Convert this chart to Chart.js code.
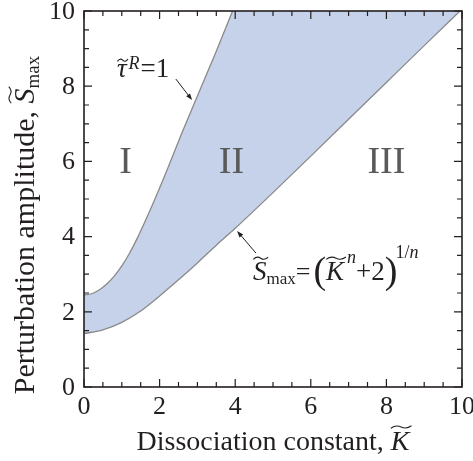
<!DOCTYPE html>
<html>
<head>
<meta charset="utf-8">
<script src="https://cdn.jsdelivr.net/npm/chart.js@4.4.1/dist/chart.umd.min.js"></script>
<style>
  html, body { margin: 0; padding: 0; background: #fff; }
  #wrap { width: 473px; height: 461px; }
</style>
</head>
<body>
<div id="wrap"><canvas id="chart" width="473" height="461"></canvas></div>
<script>
// values
// upper boundary (tau^R = 1); runs off the top of the plot after K ~ 3.93
const kUpper = [0, 0.2, 0.4, 0.6, 0.8, 1.0, 1.2, 1.4, 1.6, 1.8, 2.0, 2.2, 2.6, 3.0, 3.5, 3.93, 4.5, 10];
const sUpper = [2.45, 2.48, 2.58, 2.74, 2.95, 3.22, 3.55, 3.94, 4.37, 4.82, 5.29, 5.78, 6.78, 7.74, 8.93, 10, 11.4, 11.4];

// lower boundary S = (K^n + 2)^(1/n)
const kLower = [0, 0.5, 1.0, 1.5, 2.0, 2.5, 3.0, 3.5, 4.0, 5, 6, 7, 8, 9, 10];
const sLower = [1.42, 1.52, 1.72, 2.02, 2.42, 2.85, 3.3, 3.77, 4.22, 5.17, 6.14, 7.12, 8.1, 9.08, 10.05];

const xTicks = [0, 2, 4, 6, 8, 10];
const yTicks = [0, 2, 4, 6, 8, 10];
const regionLabels = ['I', 'II', 'III'];
const regionK = [1.1, 3.9, 8.0];
const regionS = 6;

const SERIF = '"Liberation Serif", "Times New Roman", serif';
const CURVE = '#8a8a8a';
const FILL = '#c6d2ea';
const INK = '#231f20';

const toPoints = (xs, ys) => xs.map((x, i) => ({ x, y: ys[i] }));

function drawTilde(ctx, cx, cy, w) {
  const x0 = cx - w / 2;
  ctx.save();
  ctx.beginPath();
  ctx.lineWidth = 1.1;
  ctx.strokeStyle = INK;
  ctx.moveTo(x0, cy + 1.2);
  ctx.quadraticCurveTo(x0 + w * 0.25, cy - 2.6, x0 + w * 0.5, cy);
  ctx.quadraticCurveTo(x0 + w * 0.75, cy + 2.6, x0 + w, cy - 1.2);
  ctx.stroke();
  ctx.restore();
}

// draws text pieces left to right, returns end x
function drawRuns(ctx, x, y, runs) {
  runs.forEach((r) => {
    ctx.font = r.font;
    x += r.dx || 0;
    ctx.fillText(r.t, x, y + (r.dy || 0));
    const w = ctx.measureText(r.t).width;
    if (r.tilde) drawTilde(ctx, x + w / 2 + (r.tx || 0), y + r.tilde, w * 1.1);
    x += w;
  });
  return x;
}

function runsWidth(ctx, runs) {
  return runs.reduce((sum, r) => {
    ctx.font = r.font;
    return sum + ctx.measureText(r.t).width + (r.dx || 0);
  }, 0);
}

function drawArrow(ctx, x1, y1, x2, y2) {
  const ang = Math.atan2(y2 - y1, x2 - x1);
  const len = 7;
  ctx.save();
  ctx.strokeStyle = INK;
  ctx.fillStyle = INK;
  ctx.lineWidth = 1;
  ctx.beginPath();
  ctx.moveTo(x1, y1);
  ctx.lineTo(x2 - Math.cos(ang) * 4, y2 - Math.sin(ang) * 4);
  ctx.stroke();
  ctx.beginPath();
  ctx.moveTo(x2, y2);
  ctx.lineTo(x2 - len * Math.cos(ang - 0.35), y2 - len * Math.sin(ang - 0.35));
  ctx.lineTo(x2 - len * Math.cos(ang + 0.35), y2 - len * Math.sin(ang + 0.35));
  ctx.closePath();
  ctx.fill();
  ctx.restore();
}

const decorPlugin = {
  id: 'decor',
  afterDraw(chart) {
    const { ctx, chartArea: a } = chart;
    const xs = chart.scales.x;
    const ys = chart.scales.y;
    ctx.save();

    // frame
    ctx.strokeStyle = INK;
    ctx.lineWidth = 1.6;
    ctx.strokeRect(a.left, a.top, a.right - a.left, a.bottom - a.top);

    // inward ticks on all four sides, minor every 0.5
    ctx.lineWidth = 1.2;
    ctx.beginPath();
    for (let v = 0; v <= 10; v += 0.5) {
      const len = v % 2 === 0 ? 8 : 5;
      const px = xs.getPixelForValue(v);
      const py = ys.getPixelForValue(v);
      ctx.moveTo(px, a.bottom); ctx.lineTo(px, a.bottom - len);
      ctx.moveTo(px, a.top); ctx.lineTo(px, a.top + len);
      ctx.moveTo(a.left, py); ctx.lineTo(a.left + len, py);
      ctx.moveTo(a.right, py); ctx.lineTo(a.right - len, py);
    }
    ctx.stroke();

    // tick labels
    ctx.fillStyle = INK;
    ctx.font = '26px ' + SERIF;
    ctx.textBaseline = 'middle';
    ctx.textAlign = 'center';
    xs.ticks.forEach((t) => {
      ctx.fillText(String(t.value), xs.getPixelForValue(t.value), a.bottom + 20);
    });
    ctx.textAlign = 'right';
    ys.ticks.forEach((t) => {
      ctx.fillText(String(t.value), a.left - 9, ys.getPixelForValue(t.value) + 1);
    });

    // region labels
    ctx.fillStyle = '#5a5a5a';
    ctx.font = '38px ' + SERIF;
    ctx.textAlign = 'center';
    regionLabels.forEach((t, i) => {
      ctx.fillText(t, xs.getPixelForValue(regionK[i]), ys.getPixelForValue(regionS) + 2);
    });

    ctx.fillStyle = INK;
    ctx.textAlign = 'left';
    ctx.textBaseline = 'alphabetic';

    // tau annotation
    const tx = xs.getPixelForValue(0.87);
    const ty = ys.getPixelForValue(8.24);
    drawRuns(ctx, tx, ty, [
      { t: 'τ', font: 'italic 27px ' + SERIF, tilde: -17, tx: 1 },
      { t: 'R', font: 'italic 18px ' + SERIF, dy: -8, dx: 2 },
      { t: '=1', font: '27px ' + SERIF, dx: 1 }
    ]);
    drawArrow(ctx, xs.getPixelForValue(2.43), ys.getPixelForValue(8.19),
      xs.getPixelForValue(2.86), ys.getPixelForValue(7.63));

    // lower curve annotation
    const fx = xs.getPixelForValue(4.47);
    const fy = ys.getPixelForValue(2.84);
    drawRuns(ctx, fx, fy, [
      { t: 'S', font: 'italic 27px ' + SERIF, tilde: -22, tx: 1 },
      { t: 'max', font: '17px ' + SERIF, dy: 4 },
      { t: '=', font: '26px ' + SERIF },
      { t: '(', font: '38px ' + SERIF, dx: 3, dy: 3 },
      { t: 'K', font: 'italic 27px ' + SERIF, tilde: -22, tx: 1 },
      { t: 'n', font: 'italic 18px ' + SERIF, dy: -17, dx: 3 },
      { t: '+2', font: '27px ' + SERIF },
      { t: ')', font: '38px ' + SERIF, dy: 3 },
      { t: '1/', font: '18px ' + SERIF, dy: -22, dx: -2 },
      { t: 'n', font: 'italic 18px ' + SERIF, dy: -22 }
    ]);
    drawArrow(ctx, xs.getPixelForValue(4.55), ys.getPixelForValue(3.56),
      xs.getPixelForValue(4.05), ys.getPixelForValue(4.15));

    // x axis title
    const xTitle = [
      { t: 'Dissociation constant, ', font: '28px ' + SERIF },
      { t: 'K', font: 'italic 28px ' + SERIF, tilde: -23, tx: 1 }
    ];
    const xw = runsWidth(ctx, xTitle);
    drawRuns(ctx, (a.left + a.right) / 2 - xw / 2, 450, xTitle);

    // y axis title, rotated
    const yTitle = [
      { t: 'Perturbation amplitude, ', font: '30px ' + SERIF },
      { t: 'S', font: 'italic 30px ' + SERIF, tilde: -24, tx: 1 },
      { t: 'max', font: '19px ' + SERIF, dy: 5 }
    ];
    const yw = runsWidth(ctx, yTitle);
    ctx.translate(34, 225);
    ctx.rotate(-Math.PI / 2);
    drawRuns(ctx, -yw / 2, 0, yTitle);

    ctx.restore();
  }
};

new Chart(document.getElementById('chart'), {
  type: 'scatter',
  data: {
    datasets: [
      {
        label: 'lower',
        data: toPoints(kLower, sLower),
        showLine: true,
        borderColor: CURVE,
        borderWidth: 1.3,
        pointRadius: 0,
        cubicInterpolationMode: 'monotone',
        fill: false
      },
      {
        label: 'upper',
        data: toPoints(kUpper, sUpper),
        showLine: true,
        borderColor: CURVE,
        borderWidth: 1.3,
        backgroundColor: FILL,
        pointRadius: 0,
        cubicInterpolationMode: 'monotone',
        fill: '-1'
      }
    ]
  },
  options: {
    responsive: false,
    animation: false,
    layout: { padding: { left: 0, top: 11, right: 11, bottom: 0 } },
    plugins: {
      legend: { display: false },
      tooltip: { enabled: false }
    },
    scales: {
      x: {
        type: 'linear',
        min: 0,
        max: 10,
        afterBuildTicks: (scale) => { scale.ticks = xTicks.map((v) => ({ value: v })); },
        afterFit: (scale) => {
          scale.height = 74;
          scale.paddingLeft = 0;
          scale.paddingRight = 0;
        },
        grid: { display: false, drawTicks: false },
        border: { display: false },
        ticks: { display: false }
      },
      y: {
        type: 'linear',
        min: 0,
        max: 10,
        afterBuildTicks: (scale) => { scale.ticks = yTicks.map((v) => ({ value: v })); },
        afterFit: (scale) => {
          scale.width = 84;
          scale.paddingTop = 0;
          scale.paddingBottom = 0;
        },
        grid: { display: false, drawTicks: false },
        border: { display: false },
        ticks: { display: false }
      }
    }
  },
  plugins: [decorPlugin]
});
</script>
</body>
</html>
